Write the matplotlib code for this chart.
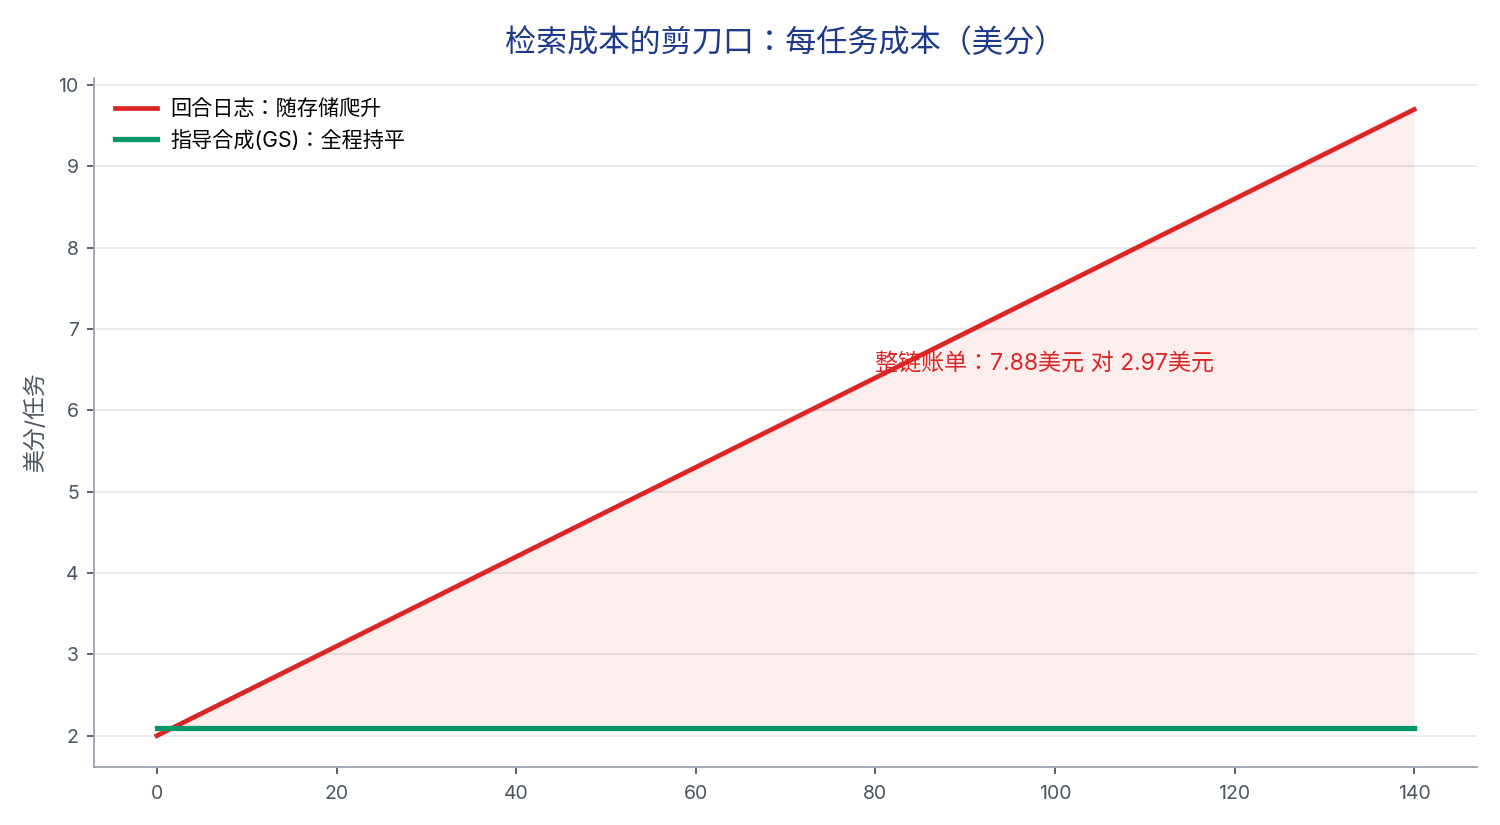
import matplotlib.pyplot as plt

plt.rcParams['font.family'] = ['Inter', 'Noto Sans CJK JP', 'DejaVu Sans']

# data
turns = [0, 20, 40, 60, 80, 100, 120, 140]
log_cost = [2.0, 3.1, 4.2, 5.3, 6.4, 7.5, 8.6, 9.7]
gs_cost = [2.1, 2.1, 2.1, 2.1, 2.1, 2.1, 2.1, 2.1]
label_log = '回合日志：随存储爬升'
label_gs = '指导合成(GS)：全程持平'
note = '整链账单：7.88美元 对 2.97美元'
note_pos = (80, 6.58)

red = '#dc2626'
green = '#059669'
grey = '#4b5563'

fig = plt.figure(figsize=(15, 8.25), dpi=100)
ax = fig.add_axes([0.0627, 0.0703, 0.922, 0.835])

ax.fill_between(turns, log_cost, gs_cost, color='#ef4444', alpha=0.09, linewidth=0)
ax.plot(turns, log_cost, color=red, lw=3.4, label=label_log)
ax.plot(turns, gs_cost, color=green, lw=3.8, label=label_gs)

ax.text(note_pos[0], note_pos[1], note, color=red, fontsize=16.6, va='center', ha='left')

ax.set_title('检索成本的剪刀口：每任务成本（美分）', fontsize=22.4, color='#1e3a8a', pad=19)
ax.set_ylabel('美分/任务', fontsize=16.5, color=grey, labelpad=8)

ax.grid(axis='y', color='#e5e7eb', lw=1.2)
ax.set_axisbelow(True)
for s in ['top', 'right']:
    ax.spines[s].set_visible(False)
for s in ['left', 'bottom']:
    ax.spines[s].set_color('#9ca3af')
    ax.spines[s].set_linewidth(1.3)
ax.tick_params(colors=grey, labelsize=14, length=5, width=1.3, pad=6)
ax.tick_params(axis='x', pad=8)

leg = ax.legend(loc='upper left', frameon=False, fontsize=15.2, handlelength=2.0,
                handletextpad=0.6, borderaxespad=0.6, labelspacing=0.5)

plt.savefig('out.png', dpi=100)
